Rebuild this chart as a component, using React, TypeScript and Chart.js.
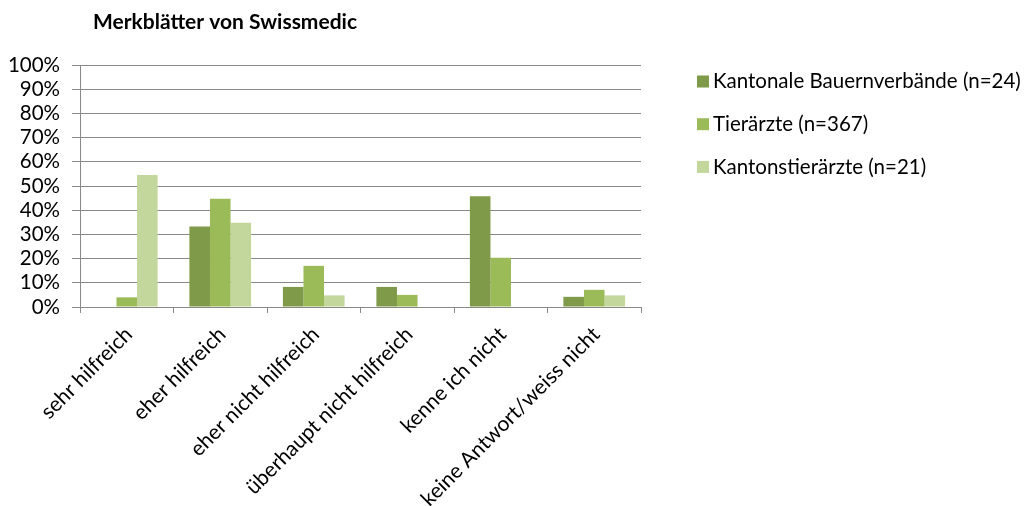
import React, { useEffect, useRef } from "react";
import { Chart, registerables } from "chart.js";

Chart.register(...registerables);

const chartTitle = "Merkblätter von Swissmedic";
const categories = [
  "sehr hilfreich",
  "eher hilfreich",
  "eher nicht hilfreich",
  "überhaupt nicht hilfreich",
  "kenne ich nicht",
  "keine Antwort/weiss nicht",
];
const seriesLabels = [
  "Kantonale Bauernverbände (n=24)",
  "Tierärzte (n=367)",
  "Kantonstierärzte (n=21)",
];
const kantonaleBauernverbaende = [0, 33.3, 8.3, 8.3, 45.8, 4.2];
const tieraerzte = [4.0, 44.7, 17.0, 5.0, 20.4, 7.1];
const kantonstieraerzte = [54.5, 34.8, 4.8, 0, 0, 4.8];
const seriesColors = ["#7f9a48", "#9bbb59", "#c3d69b"];

const FONT = "Lato, 'Open Sans', sans-serif";

const overlayPlugin = {
  id: "overlay",
  afterDraw(chart: any) {
    const ctx = chart.ctx;
    ctx.save();
    // title
    ctx.fillStyle = "#000";
    ctx.font = `bold 21px ${FONT}`;
    ctx.textAlign = "left";
    ctx.textBaseline = "middle";
    ctx.fillText(chartTitle, 93, 22);
    // legend
    ctx.font = `20.5px ${FONT}`;
    chart.data.datasets.forEach((ds: any, i: number) => {
      const cy = 81.5 + i * 42.7;
      ctx.fillStyle = ds.backgroundColor;
      ctx.fillRect(697, cy - 6, 12, 12);
      ctx.fillStyle = "#000";
      ctx.fillText(ds.label, 713, cy);
    });
    ctx.restore();
  },
};

export default function App() {
  const ref = useRef<HTMLCanvasElement>(null);
  useEffect(() => {
    document.body.style.margin = "0";
    const chart = new Chart(ref.current!, {
      type: "bar",
      data: {
        labels: categories,
        datasets: [
          { label: seriesLabels[0], data: kantonaleBauernverbaende, backgroundColor: seriesColors[0] },
          { label: seriesLabels[1], data: tieraerzte, backgroundColor: seriesColors[1] },
          { label: seriesLabels[2], data: kantonstieraerzte, backgroundColor: seriesColors[2] },
        ],
      },
      options: {
        animation: false,
        responsive: false,
        devicePixelRatio: 1,
        datasets: { bar: { barPercentage: 1, categoryPercentage: 0.66 } },
        layout: { padding: { top: 65, right: 385, left: 0, bottom: 0 } },
        plugins: { legend: { display: false }, tooltip: { enabled: false }, title: { display: false } },
        scales: {
          x: {
            grid: { offset: true, drawOnChartArea: false, color: "#898989", tickLength: 6 },
            border: { color: "#898989" },
            ticks: {
              autoSkip: false,
              minRotation: 45,
              maxRotation: 45,
              color: "#000",
              font: { family: FONT, size: 21 },
              padding: 9,
              labelOffset: 2,
            },
            afterFit: (s: any) => {
              s.height = 506 - 307;
            },
          },
          y: {
            min: 0,
            max: 100,
            ticks: {
              autoSkip: false,
              stepSize: 10,
              color: "#000",
              font: { family: FONT, size: 20.5 },
              padding: 12,
              callback: (v: any) => v + "%",
            },
            grid: { color: "#898989", tickLength: 8 },
            border: { color: "#898989" },
            afterFit: (s: any) => {
              s.width = 80;
            },
          },
        },
      },
      plugins: [overlayPlugin],
    });
    return () => chart.destroy();
  }, []);
  return (
    <div style={{ width: 1026, height: 506, overflow: "hidden", background: "#fff" }}>
      <canvas ref={ref} width={1026} height={506} />
    </div>
  );
}
